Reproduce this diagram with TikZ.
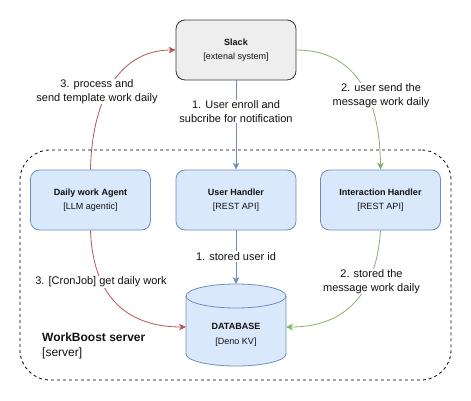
\documentclass[tikz,border=0pt]{standalone}
\usepackage{fontspec}
\setmainfont{Liberation Sans}
\usetikzlibrary{arrows.meta}
\definecolor{bluefill}{HTML}{DAE8FC}
\definecolor{bluestroke}{HTML}{6C8EBF}
\definecolor{redstroke}{HTML}{B85450}
\definecolor{greenstroke}{HTML}{82B366}
\definecolor{grayfill}{HTML}{EEEEEE}
\definecolor{graystroke}{HTML}{36393D}
\definecolor{txt}{HTML}{111111}
\begin{document}
\begin{tikzpicture}[x=1pt,y=-1pt,
  box/.style={draw=bluestroke, fill=bluefill, rounded corners=9pt, minimum width=120pt, minimum height=60pt,
    align=center, font=\fontsize{9}{14}\selectfont, line width=0.8pt, inner sep=0pt, text=txt},
  graybox/.style={box, draw=graystroke, fill=grayfill},
  lbl/.style={font=\fontsize{11}{13.5}\selectfont, fill=white, align=center, inner sep=1pt, text=txt},
  conn/.style={line width=0.8pt, -{Stealth[length=7pt,width=6.5pt,inset=2pt]}},
  redc/.style={conn, draw=redstroke},
  greenc/.style={conn, draw=greenstroke},
  bluec/.style={conn, draw=bluestroke},
  container/.style={draw=black, dash pattern=on 3pt off 3pt, rounded corners=30pt, line width=0.8pt,
    minimum width=431pt, minimum height=230pt, inner sep=0pt}
]
\useasboundingbox (0,0) rectangle (471,401);

% container
\node[container] (server) at (235.5,265) {};
\node[anchor=west, align=left, font=\fontsize{12}{15}\selectfont, text=txt, inner sep=0pt] (serverlbl) at (42,345.5)
  {\textbf{WorkBoost server}\\{[server]}};

% nodes
\node[graybox] (slack) at (236,50) {\textbf{Slack}\\{[extenal system]}};
\node[box] (agent) at (90.5,200) {\textbf{Daily work Agent}\\{[LLM agentic]}};
\node[box] (user) at (236,200) {\textbf{User Handler}\\{[REST API]}};
\node[box] (inter) at (380.5,200) {\textbf{Interaction Handler}\\{[REST API]}};

% database cylinder
\filldraw[fill=bluefill, draw=bluestroke, line width=0.8pt]
  (186,296) -- (186,354) arc[start angle=180, end angle=360, x radius=50pt, y radius=12pt]
  -- (286,296) arc[start angle=0, end angle=180, x radius=50pt, y radius=12pt] -- cycle;
\draw[draw=bluestroke, line width=0.8pt] (186,296) arc[start angle=180, end angle=360, x radius=50pt, y radius=12pt];
\node[align=center, font=\fontsize{9}{15}\selectfont, text=txt, inner sep=0pt] (db) at (236,334.5)
  {\textbf{DATABASE}\\{[Deno KV]}};
\coordinate (dbtop) at (236,284);
\coordinate (dbleft) at (186,327);
\coordinate (dbright) at (286,327);

% connectors
\draw[bluec] (slack.south) -- (user.north);
\draw[bluec] (user.south) -- (dbtop);
\draw[redc] (agent.north) .. controls (92,95) and (122,50) .. (slack.west);
\draw[greenc] (slack.east) .. controls (350,50) and (380,90) .. (inter.north);
\draw[redc] (agent.south) .. controls (93,300) and (130,327) .. (dbleft);
\draw[greenc] (inter.south) .. controls (376,300) and (340,327) .. (dbright);

% labels
\node[lbl] (l1) at (236,111.5) {1. User enroll and\\subcribe for notification};
\node[lbl] (l2) at (381,95.5) {2. user send the\\message work daily};
\node[lbl] (l3) at (97,91.5) {3. process and\\send template work daily};
\node[lbl] (l4) at (236,256.5) {1. stored user id};
\node[lbl] (l5) at (371.5,281.5) {2. stored the\\message work daily};
\node[lbl] (l6) at (101,282) {3. [CronJob] get daily work};
\end{tikzpicture}
\end{document}
